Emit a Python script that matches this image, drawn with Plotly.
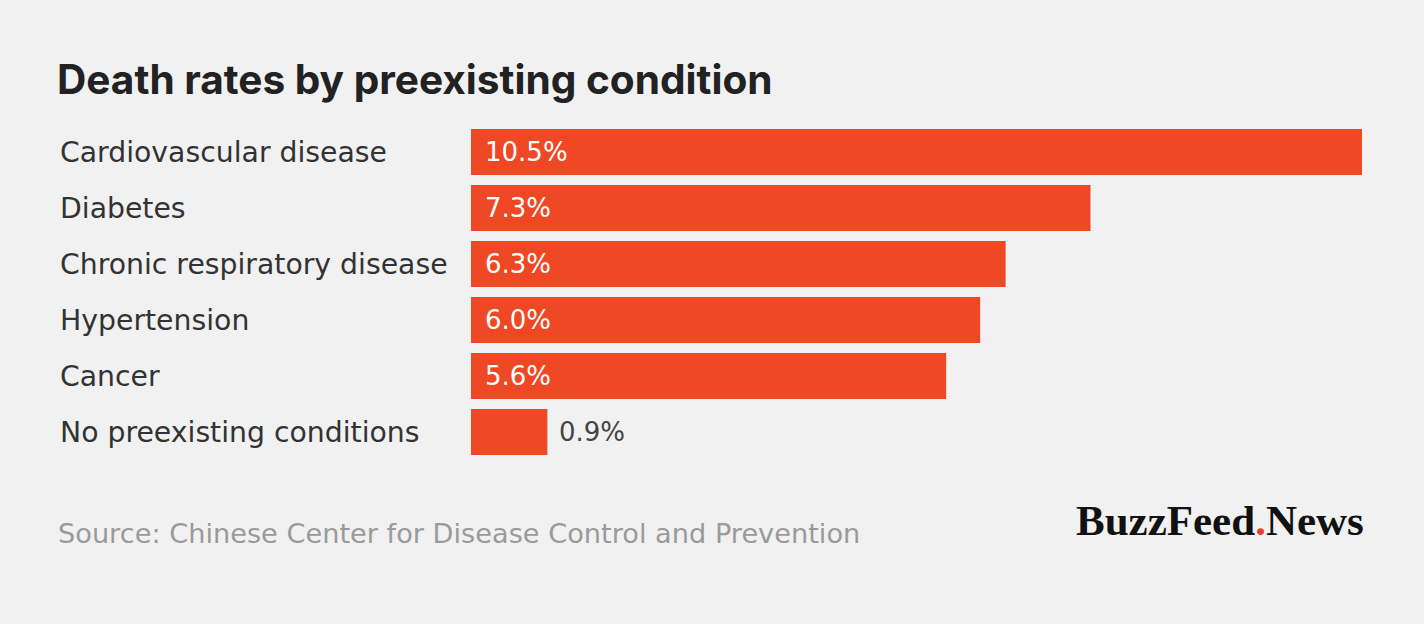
import plotly.graph_objects as go

categories = ["Cardiovascular disease", "Diabetes", "Chronic respiratory disease",
              "Hypertension", "Cancer", "No preexisting conditions"]
values = [10.5, 7.3, 6.3, 6.0, 5.6, 0.9]
labels = ["10.5%", "7.3%", "6.3%", "6.0%", "5.6%", "0.9%"]

BG = "#f1f1f1"
BAR = "#ee4824"
FONT = "DejaVu Sans"

fig = go.Figure()
fig.add_trace(go.Bar(
    x=values, y=categories, orientation="h",
    marker=dict(color=BAR, line=dict(width=0)),
    width=0.82, hoverinfo="skip",
))

annotations = []
for cat, v, lab in zip(categories, values, labels):
    annotations.append(dict(x=0, xref="paper", xshift=-413, y=cat, yref="y",
                            text=cat, showarrow=False, xanchor="left",
                            font=dict(family=FONT, size=28.3, color="#333333")))
    inside = v > 2
    annotations.append(dict(x=0 if inside else v, xref="x", y=cat, yref="y",
                            text=lab, showarrow=False, xanchor="left",
                            xshift=12 if inside else 10,
                            font=dict(family=FONT, size=26,
                                      color="#ffffff" if inside else "#444444")))

fig.update_layout(
    width=1424, height=624,
    paper_bgcolor=BG, plot_bgcolor=BG,
    margin=dict(l=471, r=62, t=124, b=164),
    showlegend=False,
    bargap=0.18,
    xaxis=dict(range=[0, 10.5], visible=False, fixedrange=True),
    yaxis=dict(autorange="reversed", visible=False, fixedrange=True),
    title=dict(text="<b>Death rates by preexisting condition</b>",
               x=57 / 1424, xanchor="left", y=1 - 80 / 624, yanchor="middle",
               font=dict(family="Inter", size=40.6, color="#222222")),
    annotations=annotations,
)

fig.add_annotation(x=-415 / 891, xref="paper", y=-73 / 336, yref="paper",
                   text="Source: Chinese Center for Disease Control and Prevention",
                   showarrow=False, xanchor="left", yanchor="middle",
                   font=dict(family=FONT, size=27.2, color="#9a9a9a"))
fig.add_annotation(x=1, xref="paper", xshift=4, y=-60 / 336, yref="paper",
                   text="<b>BuzzFeed<span style='color:#e8402c'>.</span>News</b>",
                   showarrow=False, xanchor="right", yanchor="middle",
                   font=dict(family="Liberation Serif", size=43, color="#111111"))

fig.write_html("out.html", config={"displayModeBar": False},
               post_script="document.body.style.margin='0';document.body.style.background='#f1f1f1';")
